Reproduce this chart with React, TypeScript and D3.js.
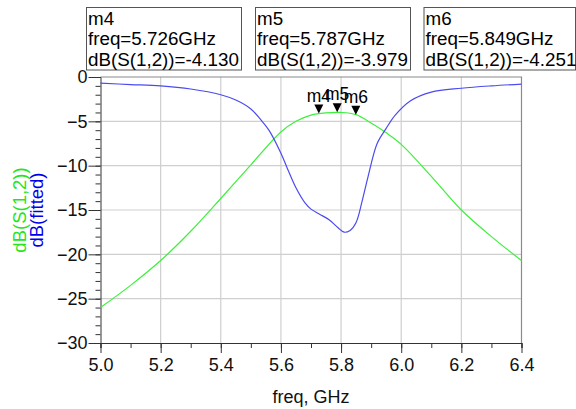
import React, { useRef, useEffect } from 'react';
import * as d3 from 'd3';

// S21 of the filter and its fitted response
const xTicks = [5.0, 5.2, 5.4, 5.6, 5.8, 6.0, 6.2, 6.4];
const yTicks = [0, -5, -10, -15, -20, -25, -30];

const s12Freq = [5.0, 5.1, 5.2, 5.3, 5.4, 5.5, 5.6, 5.65, 5.7, 5.75, 5.8, 5.85, 5.9, 5.95, 6.0, 6.1, 6.2, 6.3, 6.4];
const s12Db = [-26.0, -23.5, -20.7, -17.4, -13.7, -9.9, -6.2, -5.0, -4.3, -4.05, -4.0, -4.25, -5.2, -6.3, -7.6, -11.2, -15.0, -18.0, -20.7];

const fitFreq = [5.0, 5.1, 5.2, 5.3, 5.4, 5.45, 5.5, 5.53, 5.56, 5.6, 5.62, 5.65, 5.68, 5.7, 5.73, 5.76, 5.79, 5.81, 5.83, 5.85, 5.87, 5.89, 5.92, 5.95, 5.98, 6.03, 6.1, 6.2, 6.3, 6.4];
const fitDb = [-0.7, -0.85, -1.0, -1.35, -2.0, -2.6, -3.6, -4.7, -6.0, -8.6, -10.2, -12.5, -14.2, -14.9, -15.5, -16.1, -17.0, -17.5, -17.3, -16.4, -14.0, -11.2, -7.5, -5.8, -4.3, -2.7, -1.7, -1.27, -1.0, -0.8];

const markerNames = ['m4', 'm5', 'm6'];
const markerFreq = [5.726, 5.787, 5.849];
const markerDb = [-4.13, -3.979, -4.251];

const FONT = '"Liberation Sans", Arial, sans-serif';

const App = () => {
    const ref = useRef<HTMLDivElement>(null);

    useEffect(() => {
        d3.select(ref.current).select('svg').remove();

        const W = 576, H = 409;
        const left = 100.5, right = 521.5, top = 77, bottom = 343;

        const svg = d3.select(ref.current)
            .append('svg')
            .attr('width', W)
            .attr('height', H)
            .style('position', 'absolute')
            .style('left', 0)
            .style('top', 0)
            .style('background', '#fff');

        const x = d3.scaleLinear().domain([5.0, 6.4]).range([left, right]);
        const y = d3.scaleLinear().domain([-30, 0]).range([bottom, top]);

        // grid
        const grid = svg.append('g').attr('stroke', '#cfcfcf').attr('stroke-width', 1.2);
        xTicks.slice(1, -1).forEach(t => {
            grid.append('line').attr('x1', x(t)).attr('x2', x(t)).attr('y1', top).attr('y2', bottom);
        });
        yTicks.slice(1, -1).forEach(t => {
            grid.append('line').attr('x1', left).attr('x2', right).attr('y1', y(t)).attr('y2', y(t));
        });

        // frame top / right
        svg.append('path')
            .attr('d', `M${left},${top}H${right}V${bottom}`)
            .attr('fill', 'none')
            .attr('stroke', '#8a8a8a')
            .attr('stroke-width', 1.2);

        // axes
        const xAxis = d3.axisBottom(x)
            .tickValues(d3.range(5.0, 6.41, 0.1))
            .tickSize(5)
            .tickFormat(() => '');
        svg.append('g').attr('transform', `translate(0,${bottom})`).call(xAxis)
            .call(g => g.selectAll('line,path').attr('stroke', '#333'));
        svg.append('g').attr('transform', `translate(0,${bottom})`)
            .call(d3.axisBottom(x).tickValues(xTicks).tickSize(10).tickPadding(4).tickFormat(d3.format('.1f')))
            .call(g => g.select('.domain').remove())
            .call(g => g.selectAll('line').attr('stroke', '#333'))
            .call(g => g.selectAll('text').attr('font-size', 18).attr('font-family', FONT).attr('fill', '#111').attr('dy', '0.71em').attr('y', 15));

        const yAxis = d3.axisLeft(y)
            .tickValues(d3.range(-30, 0.1, 1))
            .tickSize(5)
            .tickFormat(() => '');
        svg.append('g').attr('transform', `translate(${left},0)`).call(yAxis)
            .call(g => g.selectAll('line,path').attr('stroke', '#333'));
        svg.append('g').attr('transform', `translate(${left},0)`)
            .call(d3.axisLeft(y).tickValues(yTicks).tickSize(12).tickPadding(1).tickFormat(d3.format('d')))
            .call(g => g.select('.domain').remove())
            .call(g => g.selectAll('line').attr('stroke', '#333'))
            .call(g => g.selectAll('text').attr('font-size', 18).attr('font-family', FONT).attr('fill', '#111'));

        // curves
        const line = d3.line<[number, number]>()
            .x(d => x(d[0]))
            .y(d => y(d[1]))
            .curve(d3.curveCatmullRom.alpha(0.5));

        svg.append('path')
            .datum(s12Freq.map((f, i) => [f, s12Db[i]] as [number, number]))
            .attr('d', line)
            .attr('fill', 'none')
            .attr('stroke', '#3cf03c')
            .attr('stroke-width', 1.2);

        svg.append('path')
            .datum(fitFreq.map((f, i) => [f, fitDb[i]] as [number, number]))
            .attr('d', line)
            .attr('fill', 'none')
            .attr('stroke', '#4b4bf0')
            .attr('stroke-width', 1.2);

        // markers (labels overlap in the original too)
        markerNames.forEach((name, i) => {
            const mx = x(markerFreq[i]);
            const my = y(markerDb[i]);
            svg.append('path')
                .attr('d', `M${mx - 4.5},${my - 9}L${mx + 4.5},${my - 9}L${mx},${my}Z`)
                .attr('fill', '#000');
            svg.append('text')
                .attr('x', mx)
                .attr('y', my - 12)
                .attr('text-anchor', 'middle')
                .attr('font-size', 17.5)
                .attr('font-family', FONT)
                .attr('fill', '#000')
                .text(name);
        });

        // marker readout boxes
        const boxLeft = [86, 255, 423.5];
        const boxRight = [241, 410, 575];
        markerNames.forEach((name, i) => {
            const g = svg.append('g');
            g.append('rect')
                .attr('x', boxLeft[i] + 0.5)
                .attr('y', 7.5)
                .attr('width', boxRight[i] - boxLeft[i])
                .attr('height', 62.5)
                .attr('fill', '#fff')
                .attr('stroke', '#555');
            const lines = [name, `freq=${markerFreq[i].toFixed(3)}GHz`, `dB(S(1,2))=${markerDb[i].toFixed(3)}`];
            lines.forEach((t, j) => {
                g.append('text')
                    .attr('x', boxLeft[i] + 2)
                    .attr('y', 24.5 + j * 20.5)
                    .attr('font-size', 18.8)
                    .attr('font-family', FONT)
                    .attr('fill', '#000')
                    .text(t);
            });
        });

        // axis titles
        svg.append('text')
            .attr('transform', `translate(26,210) rotate(-90)`)
            .attr('text-anchor', 'middle')
            .attr('font-size', 18.5)
            .attr('font-family', FONT)
            .attr('fill', '#22e622')
            .text('dB(S(1,2))');
        svg.append('text')
            .attr('transform', `translate(43,210) rotate(-90)`)
            .attr('text-anchor', 'middle')
            .attr('font-size', 18.5)
            .attr('font-family', FONT)
            .attr('fill', '#0000ee')
            .text('dB(fitted)');

        svg.append('text')
            .attr('x', (left + right) / 2)
            .attr('y', 403)
            .attr('text-anchor', 'middle')
            .attr('font-size', 18)
            .attr('font-family', FONT)
            .attr('fill', '#111')
            .text('freq, GHz');
    }, []);

    return <div ref={ref} />;
};

export default App;
